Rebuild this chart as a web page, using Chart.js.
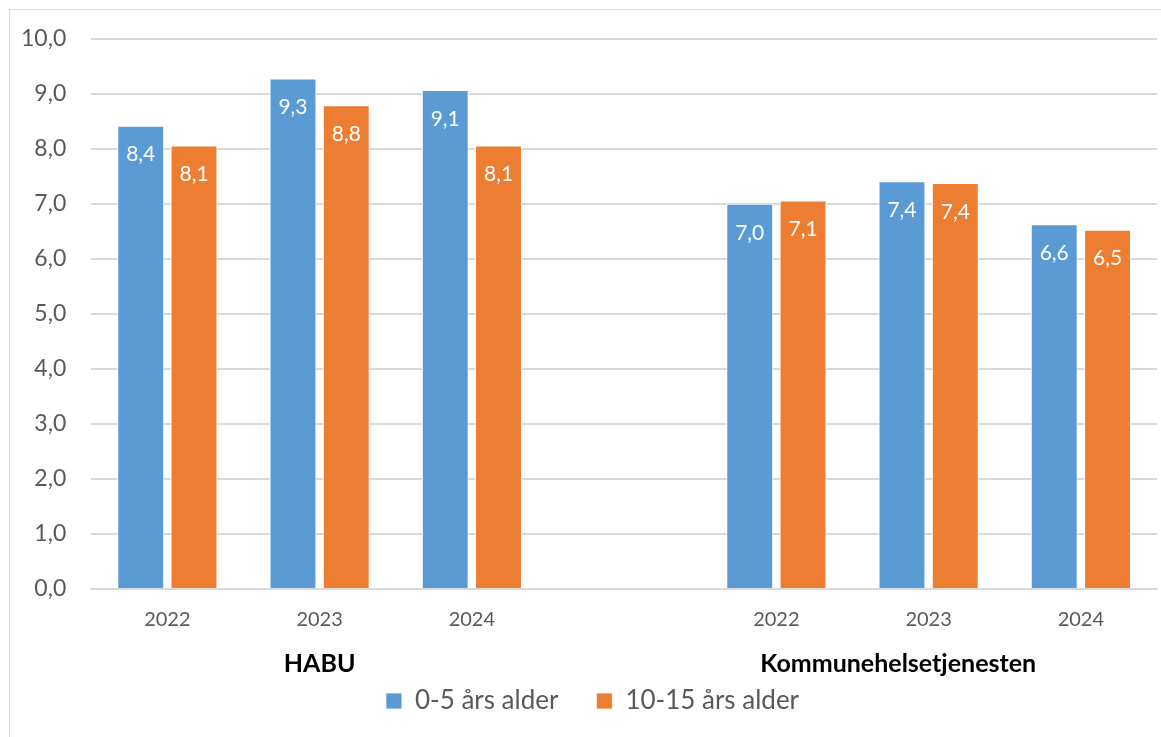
<!DOCTYPE html>
<html>
<head>
<meta charset="utf-8">
<script src="https://cdn.jsdelivr.net/npm/chart.js@4.4.1/dist/chart.umd.min.js"></script>
<style>
  html, body { margin:0; padding:0; background:#fff; }
  #wrap { position:relative; width:1161px; height:737px; }
  #frame { position:absolute; left:9px; top:9px; width:1160px; height:740px; border:1px solid #d9d9d9; box-sizing:border-box; }
  canvas { position:absolute; left:0; top:0; }
</style>
</head>
<body>
<div id="wrap">
  <div id="frame"></div>
  <canvas id="c" width="1161" height="737"></canvas>
</div>
<script>
const years = ['2022','2023','2024','','2022','2023','2024'];
const groups = ['HABU', 'Kommunehelsetjenesten'];
const young = [8.42, 9.28, 9.07, null, 7.0, 7.41, 6.63];
const older = [8.06, 8.79, 8.06, null, 7.06, 7.38, 6.53];
const seriesNames = ['0-5 års alder', '10-15 års alder'];
const yTicks = [0,1,2,3,4,5,6,7,8,9,10];

const FONT = 'Lato, "Open Sans", sans-serif';
const fmt = v => v.toFixed(1).replace('.', ',');

// white value labels near the top of each bar
const barLabels = {
  id:'barLabels',
  afterDatasetsDraw(chart){
    const ctx = chart.ctx;
    ctx.save();
    ctx.font = '21px ' + FONT;
    ctx.fillStyle = '#fff';
    ctx.textAlign = 'center';
    ctx.textBaseline = 'middle';
    chart.data.datasets.forEach((ds, i)=>{
      chart.getDatasetMeta(i).data.forEach((bar, j)=>{
        const v = ds.data[j];
        if(v == null) return;
        ctx.fillText(fmt(v), bar.x, bar.y + 29);
      });
    });
    ctx.restore();
  }
};

// group captions below the year ticks
const groupLabels = {
  id:'groupLabels',
  afterDraw(chart){
    const x = chart.scales.x, ctx = chart.ctx;
    ctx.save();
    ctx.font = 'bold 25px ' + FONT;
    ctx.fillStyle = '#000';
    ctx.textAlign = 'center';
    ctx.textBaseline = 'middle';
    const y = x.top + 75;
    ctx.fillText(groups[0], x.getPixelForValue(1), y);
    ctx.fillText(groups[1], x.getPixelForValue(4.8), y);
    ctx.restore();
  }
};

// nudge the legend box up under the group captions
const legendNudge = {
  id:'legendNudge',
  afterLayout(chart){
    const lg = chart.legend;
    lg.top -= 27; lg.bottom -= 27;
    lg.left += 16; lg.right += 16;
  }
};

new Chart(document.getElementById('c'), {
  type:'bar',
  data:{
    labels: years,
    datasets:[
      { label: seriesNames[0], data: young, backgroundColor:'#5b9bd5', borderColor:'#fff', borderWidth:{left:1,right:1,top:1,bottom:0} },
      { label: seriesNames[1], data: older, backgroundColor:'#ed7d31', borderColor:'#fff', borderWidth:{left:1,right:1,top:1,bottom:0} }
    ]
  },
  options:{
    responsive:false,
    animation:false,
    layout:{ padding:{ left:-4, right:4, top:22, bottom:-14 } },
    datasets:{ bar:{ categoryPercentage:0.70, barPercentage:0.88 } },
    plugins:{
      tooltip:{ enabled:false },
      legend:{
        position:'bottom',
        labels:{ boxWidth:16, boxHeight:16, padding:38, color:'#595959', font:{ family:FONT, size:26 } }
      }
    },
    scales:{
      x:{
        grid:{ display:false },
        border:{ display:true, color:'#d9d9d9', width:2 },
        ticks:{ color:'#595959', font:{ family:FONT, size:20 }, padding:11 },
        afterFit(scale){ scale.height += 34; }
      },
      y:{
        min:0, max:10,
        afterBuildTicks(scale){ scale.ticks = yTicks.map(v=>({value:v})); },
        grid:{ color:'#d9d9d9', lineWidth:2, drawTicks:false },
        border:{ display:false },
        ticks:{ color:'#595959', font:{ family:FONT, size:23 }, padding:25, callback:v=>fmt(v) }
      }
    }
  },
  plugins:[barLabels, groupLabels, legendNudge]
});
</script>
</body>
</html>
